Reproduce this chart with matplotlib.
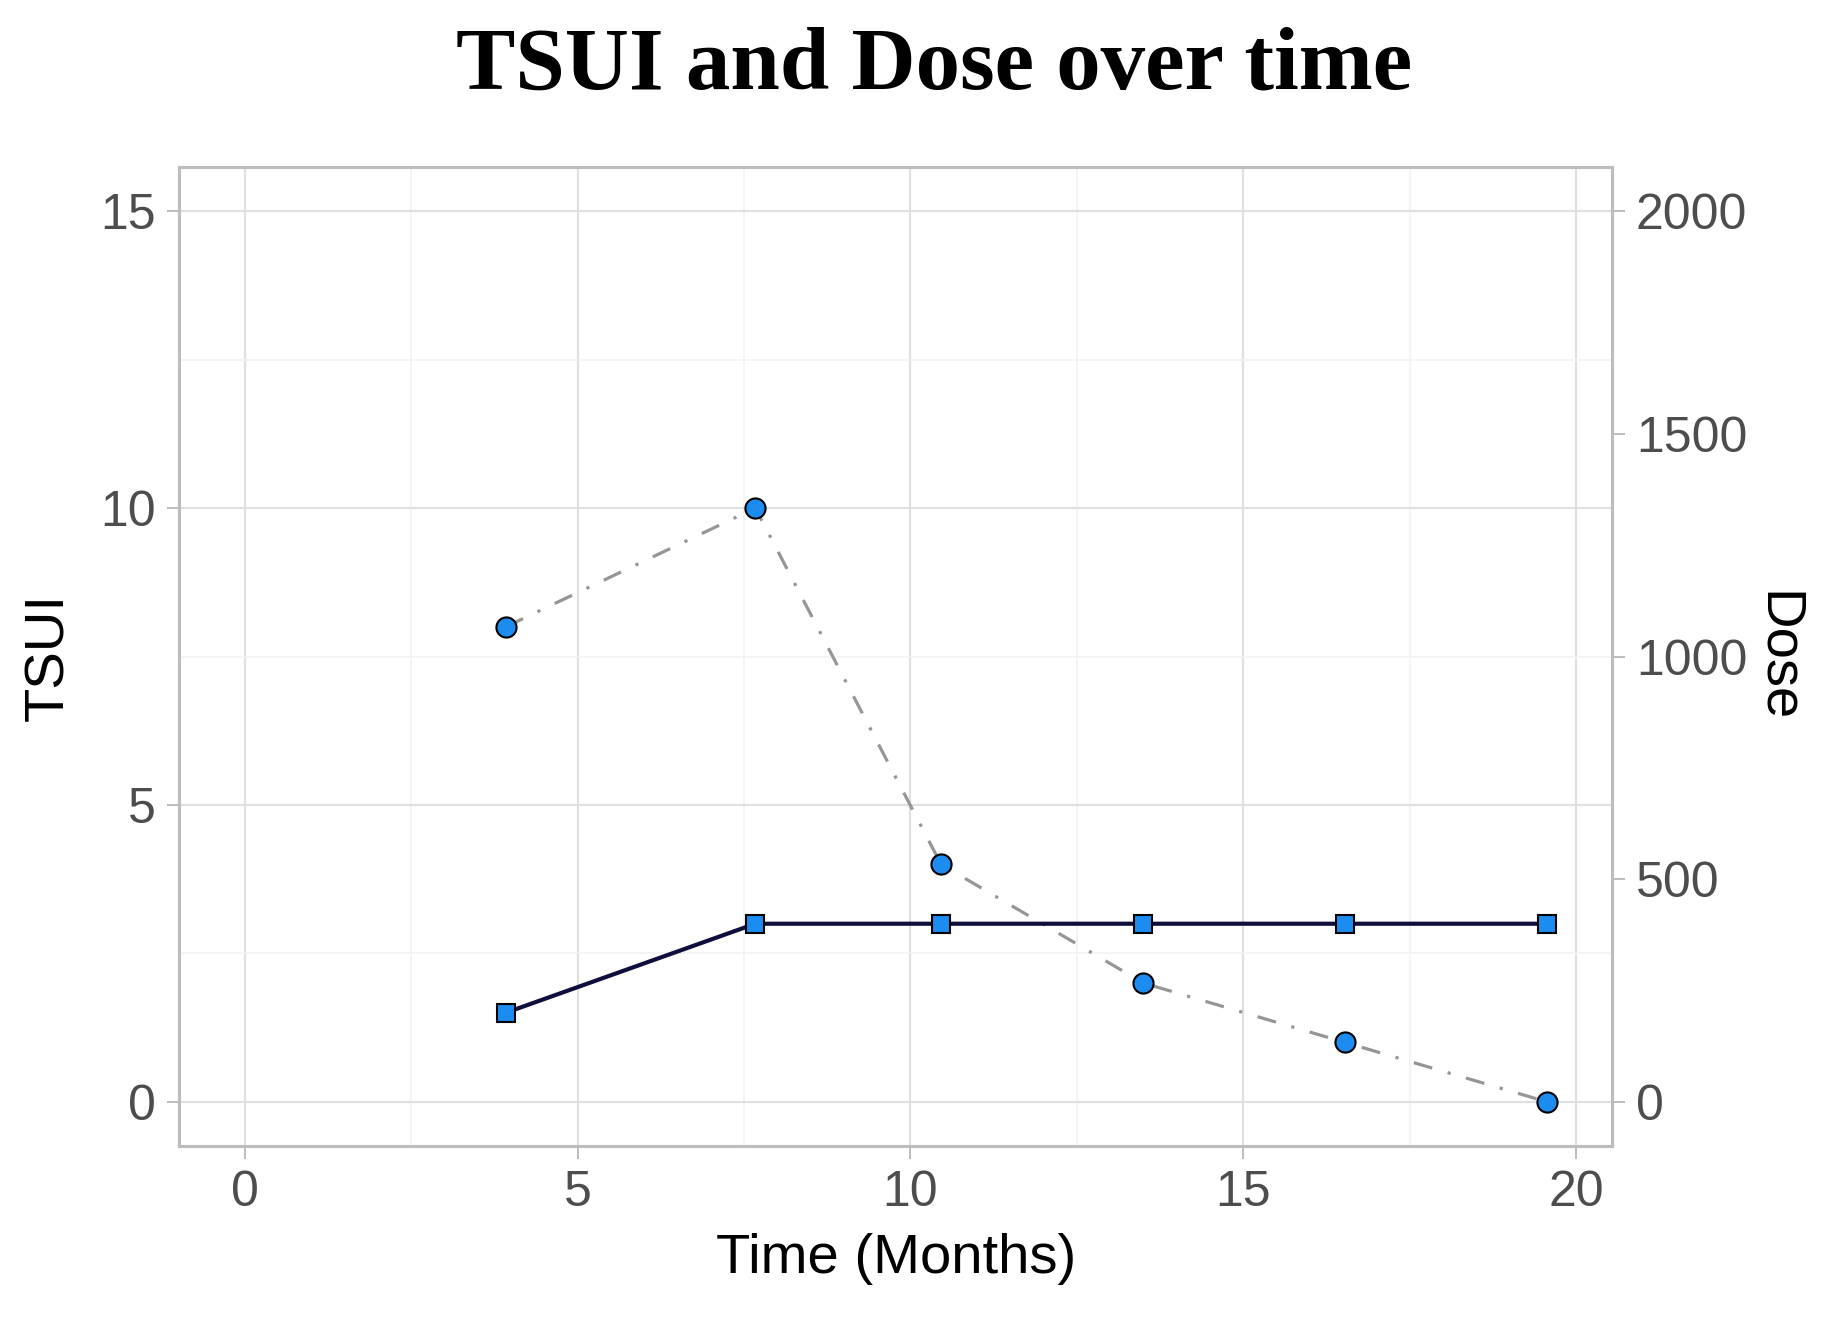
import numpy as np
import matplotlib
matplotlib.use('Agg')
import matplotlib.pyplot as plt
from matplotlib.ticker import MultipleLocator

# data
time_months = [3.92, 7.67, 10.46, 13.50, 16.53, 19.56]
tsui = [8, 10, 4, 2, 1, 0]
dose = [200, 400, 400, 400, 400, 400]

x_ticks = [0, 5, 10, 15, 20]
tsui_ticks = [0, 5, 10, 15]
dose_ticks = [0, 500, 1000, 1500, 2000]
dose_per_tsui = 2000 / 15

plt.rcParams['font.family'] = ['Liberation Sans', 'DejaVu Sans']

fig = plt.figure(figsize=(18.31, 13.23), dpi=100)
ax = fig.add_axes([0.098, 0.1335, 0.7825, 0.7405])
ax2 = ax.twinx()

tick_grey = '#4D4D4D'
border_grey = '#BDBDBD'

# grid
ax.set_xlim(-0.98, 20.54)
ax.set_ylim(-0.75, 15.75)
ax.set_xticks(x_ticks)
ax.set_yticks(tsui_ticks)
ax.xaxis.set_minor_locator(MultipleLocator(2.5))
ax.yaxis.set_minor_locator(MultipleLocator(2.5))
ax.grid(which='major', color='#E0E0E0', linewidth=1.6)
ax.grid(which='minor', color='#F2F2F2', linewidth=1.2)
ax.set_axisbelow(True)
ax.tick_params(which='minor', length=0)

# TSUI (dash-dot grey with circles)
ax.plot(time_months, tsui, color='#969696', linewidth=2.3, dashes=[6, 5, 1, 5],
        marker='o', markersize=14.5, markerfacecolor='#1C8CF0',
        markeredgecolor='black', markeredgewidth=1.5, zorder=3)

# Dose on secondary axis (solid navy with squares)
ax2.set_ylim(-0.75 * dose_per_tsui, 15.75 * dose_per_tsui)
ax2.set_yticks(dose_ticks)
ax2.plot(time_months, dose, color='#0F0F3D', linewidth=3.0,
         marker='s', markersize=13.5, markerfacecolor='#1C8CF0',
         markeredgecolor='black', markeredgewidth=1.5, zorder=3)

for a in (ax, ax2):
    for s in a.spines.values():
        s.set_color(border_grey)
        s.set_linewidth(2.2)
    a.tick_params(which='major', colors=border_grey, labelcolor=tick_grey,
                  labelsize=36, length=9, width=1.4, pad=8)

ax.set_xlabel('Time (Months)', fontsize=40.5, color='black', labelpad=12)
ax.set_ylabel('TSUI', fontsize=40.5, color='black', labelpad=18)
ax2.set_ylabel('Dose', fontsize=40.5, color='black', rotation=270, labelpad=40)

fig.suptitle('TSUI and Dose over time', x=0.51, y=0.98, fontsize=64,
             fontweight='bold', family=['Liberation Serif', 'DejaVu Serif'])

fig.savefig('out.png', dpi=100)
